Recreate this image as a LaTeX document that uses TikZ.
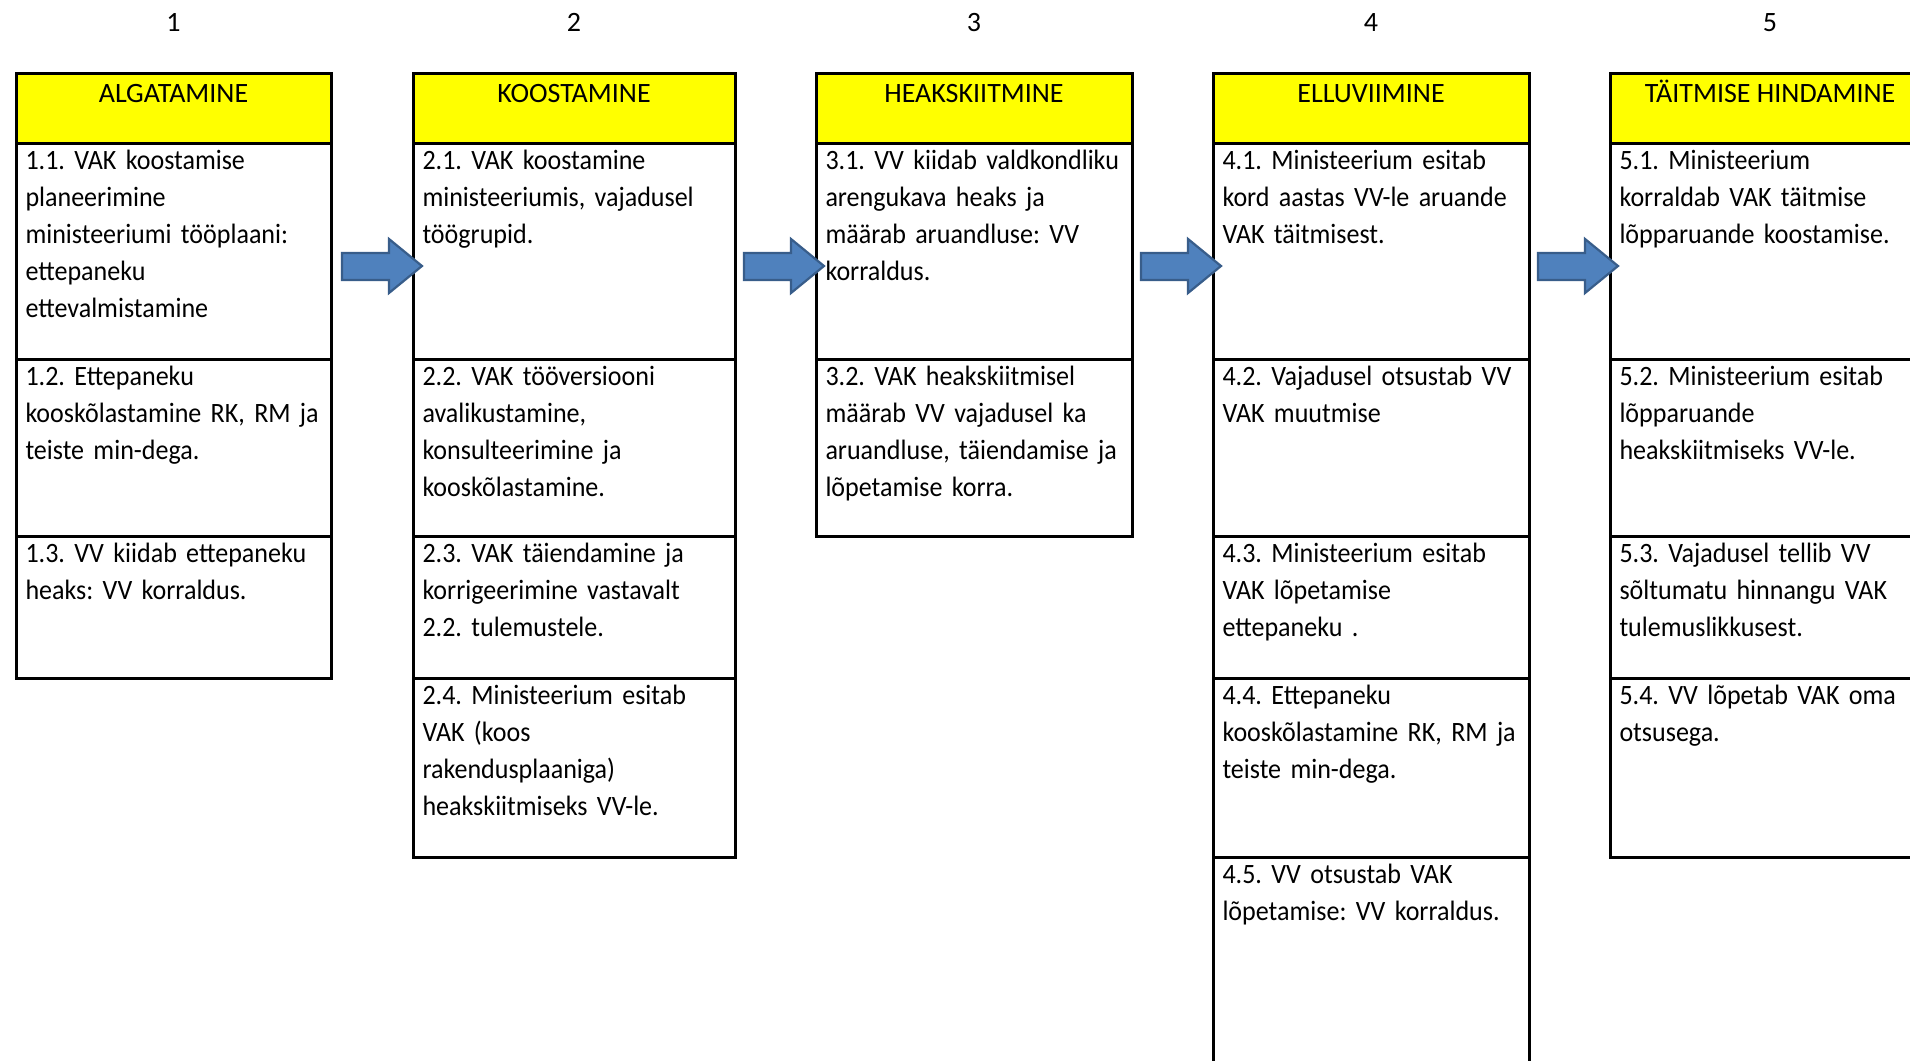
\documentclass[tikz,border=0pt]{standalone}
\usepackage{fontspec}
\setmainfont{Carlito}
\newfontfamily\bodyfont{Carlito}[FakeStretch=0.93]
\definecolor{hdryellow}{HTML}{FFFF00}
\definecolor{arrfill}{HTML}{4F81BD}
\definecolor{arrdraw}{HTML}{385D8A}
\tikzset{
  cellbox/.style={draw=black, line width=1.5pt, rectangle, inner sep=0pt, outer sep=0pt, anchor=north west},
  hdrbox/.style={cellbox, fill=hdryellow},
  celltext/.style={anchor=north west, inner sep=0pt, outer sep=0pt, text width=175pt, align=left,
     font=\bodyfont\fontsize{14}{18.6}\selectfont\frenchspacing},
  hdrtext/.style={anchor=base, inner sep=0pt, font=\fontsize{14}{18.6}\selectfont},
  flowarr/.style={fill=arrfill, draw=arrdraw, line width=1.1pt, line join=miter},
}
% #1 name, #2 x1, #3 y1, #4 x2, #5 y2, #6 text
\newcommand{\mkcell}[6]{%
  \node[cellbox, minimum width={(#4-#2)*0.5pt}, minimum height={(#5-#3)*0.5pt}] (#1) at (#2,#3) {};
  \node[celltext] (#1t) at ([xshift=4.75pt]#1.north west) {\strut #6};
}
% #1 name, #2 x1, #3 x2, #4 title, #5 column number
\newcommand{\mkhead}[5]{%
  \node[hdrbox, minimum width={(#3-#2)*0.5pt}, minimum height={70*0.5pt}] (#1) at (#2,73) {};
  \node[hdrtext] (#1t) at ({(#2+#3)/2},102) {#4};
  \node[hdrtext] (#1n) at ({(#2+#3)/2},32) {#5};
}
\newcommand{\flowarrow}[2]{%
  \draw[flowarr] (#2,253) -- (#2+47,253) -- (#2+47,239) -- (#2+80,266)
     -- (#2+47,293) -- (#2+47,280) -- (#2,280) -- cycle;
}
\begin{document}
\begin{tikzpicture}[x=0.5pt,y=-0.5pt]
\useasboundingbox (0,0) rectangle (1910,1060);
\clip (0,0) rectangle (1910,1060);
\fill[white] (0,0) rectangle (1910,1060);

% Column 1
\mkhead{h1}{16}{331}{ALGATAMINE}{1}
\mkcell{c11}{16}{143}{331}{359}{1.1. VAK koostamise\\planeerimine\\ministeeriumi tööplaani:\\ettepaneku\\ettevalmistamine}
\mkcell{c12}{16}{359}{331}{536}{1.2. Ettepaneku\\kooskõlastamine RK, RM ja\\teiste min-dega.}
\mkcell{c13}{16}{536}{331}{678}{1.3. VV kiidab ettepaneku\\heaks: VV korraldus.}

% Column 2
\mkhead{h2}{413}{735}{KOOSTAMINE}{2}
\mkcell{c21}{413}{143}{735}{359}{2.1. VAK koostamine\\ministeeriumis, vajadusel\\töögrupid.}
\mkcell{c22}{413}{359}{735}{536}{2.2. VAK tööversiooni\\avalikustamine,\\konsulteerimine ja\\kooskõlastamine.}
\mkcell{c23}{413}{536}{735}{678}{2.3. VAK täiendamine ja\\korrigeerimine vastavalt\\2.2. tulemustele.}
\mkcell{c24}{413}{678}{735}{857}{2.4. Ministeerium esitab\\VAK (koos\\rakendusplaaniga)\\heakskiitmiseks VV-le.}

% Column 3
\mkhead{h3}{816}{1132}{HEAKSKIITMINE}{3}
\mkcell{c31}{816}{143}{1132}{359}{3.1. VV kiidab valdkondliku\\arengukava heaks ja\\määrab aruandluse: VV\\korraldus.}
\mkcell{c32}{816}{359}{1132}{536}{3.2. VAK heakskiitmisel\\määrab VV vajadusel ka\\aruandluse, täiendamise ja\\lõpetamise korra.}

% Column 4
\mkhead{h4}{1213}{1529}{ELLUVIIMINE}{4}
\mkcell{c41}{1213}{143}{1529}{359}{4.1. Ministeerium esitab\\kord aastas VV-le aruande\\VAK täitmisest.}
\mkcell{c42}{1213}{359}{1529}{536}{4.2. Vajadusel otsustab VV\\VAK muutmise}
\mkcell{c43}{1213}{536}{1529}{678}{4.3. Ministeerium esitab\\VAK lõpetamise\\ettepaneku .}
\mkcell{c44}{1213}{678}{1529}{857}{4.4. Ettepaneku\\kooskõlastamine RK, RM ja\\teiste min-dega.}
\mkcell{c45}{1213}{857}{1529}{1080}{4.5. VV otsustab VAK\\lõpetamise: VV korraldus.}

% Column 5
\mkhead{h5}{1610}{1930}{TÄITMISE HINDAMINE}{5}
\mkcell{c51}{1610}{143}{1930}{359}{5.1. Ministeerium\\korraldab VAK täitmise\\lõpparuande koostamise.}
\mkcell{c52}{1610}{359}{1930}{536}{5.2. Ministeerium esitab\\lõpparuande\\heakskiitmiseks VV-le.}
\mkcell{c53}{1610}{536}{1930}{678}{5.3. Vajadusel tellib VV\\sõltumatu hinnangu VAK\\tulemuslikkusest.}
\mkcell{c54}{1610}{678}{1930}{857}{5.4. VV lõpetab VAK oma\\otsusega.}

% Arrows between columns
\flowarrow{a1}{342}
\flowarrow{a2}{744}
\flowarrow{a3}{1141}
\flowarrow{a4}{1538}
\end{tikzpicture}
\end{document}
